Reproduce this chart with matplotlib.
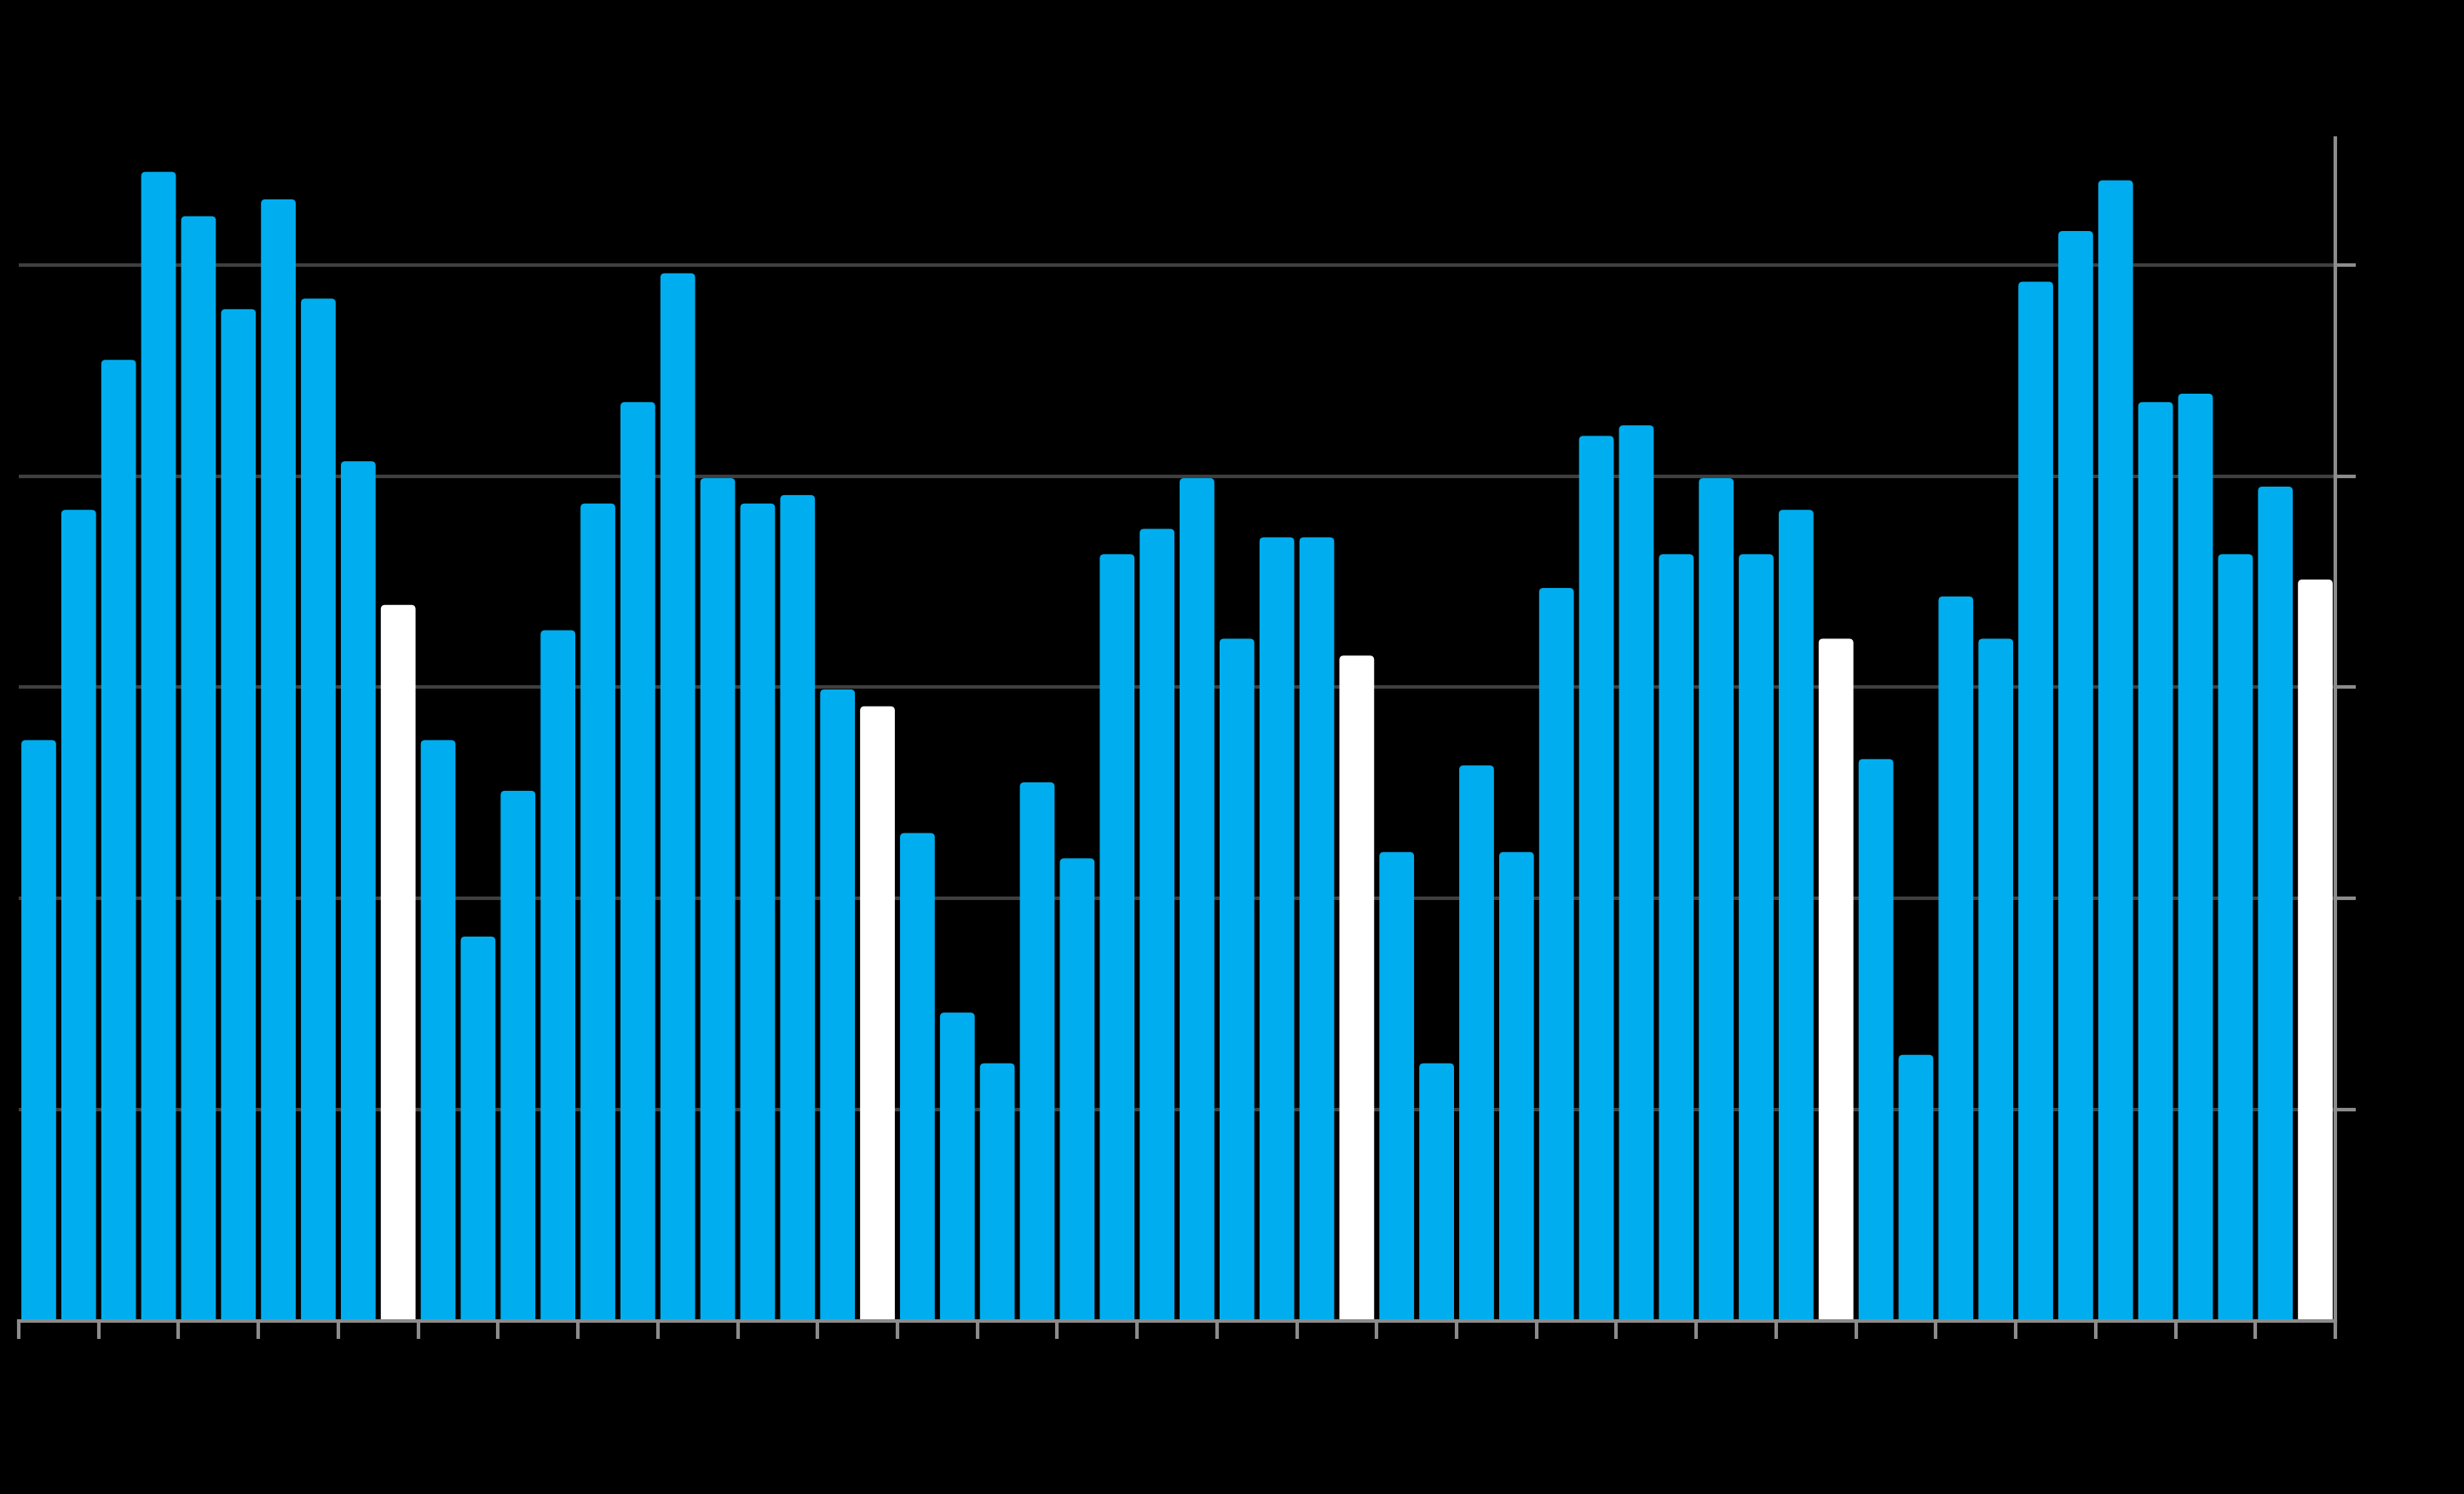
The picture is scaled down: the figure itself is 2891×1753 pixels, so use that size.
import numpy as np
import matplotlib.pyplot as plt
from matplotlib.patches import FancyBboxPatch

# bar heights (gridlines at 1, 2, 3, 4, 5)
values = [2.75, 3.84, 4.55, 5.44, 5.23, 4.79, 5.31, 4.84, 4.07, 3.39,
          2.75, 1.82, 2.51, 3.27, 3.87, 4.35, 4.96, 3.99, 3.87, 3.91,
          2.99, 2.91, 2.31, 1.46, 1.22, 2.55, 2.19, 3.63, 3.75, 3.99,
          3.23, 3.71, 3.71, 3.15, 2.22, 1.22, 2.63, 2.22, 3.47, 4.19,
          4.24, 3.63, 3.99, 3.63, 3.84, 3.23, 2.66, 1.26, 3.43, 3.23,
          4.92, 5.16, 5.40, 4.35, 4.39, 3.63, 3.95, 3.51]
# every 12th bar is highlighted in white
highlight = [9, 21, 33, 45, 57]

blue = '#00aeef'
colors = ['white' if i in highlight else blue for i in range(len(values))]

fig = plt.figure(figsize=(28.91, 17.53), dpi=100, facecolor='black')
ax = fig.add_axes([22 / 2891, 1 - 1550 / 1753, (2740 - 22) / 2891, (1550 - 162) / 1753])
ax.set_facecolor('black')

x = np.arange(len(values))
bars = ax.bar(x, values, width=0.87, color=colors, zorder=2)

# swap plain bars for ones with slightly rounded tops
xpx = 2718 / len(values)
ypx = 1388 / 5.6
for b in bars:
    b.set_visible(False)
    r = 5 / xpx
    p = FancyBboxPatch((b.get_x(), -0.02), b.get_width(), b.get_height() + 0.02,
                       boxstyle=f'round,pad=0,rounding_size={r}',
                       mutation_aspect=xpx / ypx,
                       facecolor=b.get_facecolor(), edgecolor='none', zorder=2)
    ax.add_patch(p)

ax.set_xlim(-0.5, len(values) - 0.5)
ax.set_ylim(0, 5.6)

ax.set_yticks([1, 2, 3, 4, 5])
ax.set_xticks(np.arange(-0.5, len(values), 2))
ax.grid(axis='y', color='#3f3f3f', linewidth=3, zorder=0)
ax.set_axisbelow(True)

for side in ['left', 'top']:
    ax.spines[side].set_visible(False)
for side in ['right', 'bottom']:
    ax.spines[side].set_color('#8c8c8c')
    ax.spines[side].set_linewidth(3)
    ax.spines[side].set_zorder(3)

ax.yaxis.tick_right()
ax.tick_params(axis='y', direction='out', length=17, width=3, color='#8c8c8c',
               labelcolor='black', labelsize=1)
ax.tick_params(axis='x', direction='out', length=15, width=3, color='#8c8c8c',
               labelbottom=False)
ax.set_yticklabels([])

plt.savefig('out.png', dpi=100, facecolor='black')
